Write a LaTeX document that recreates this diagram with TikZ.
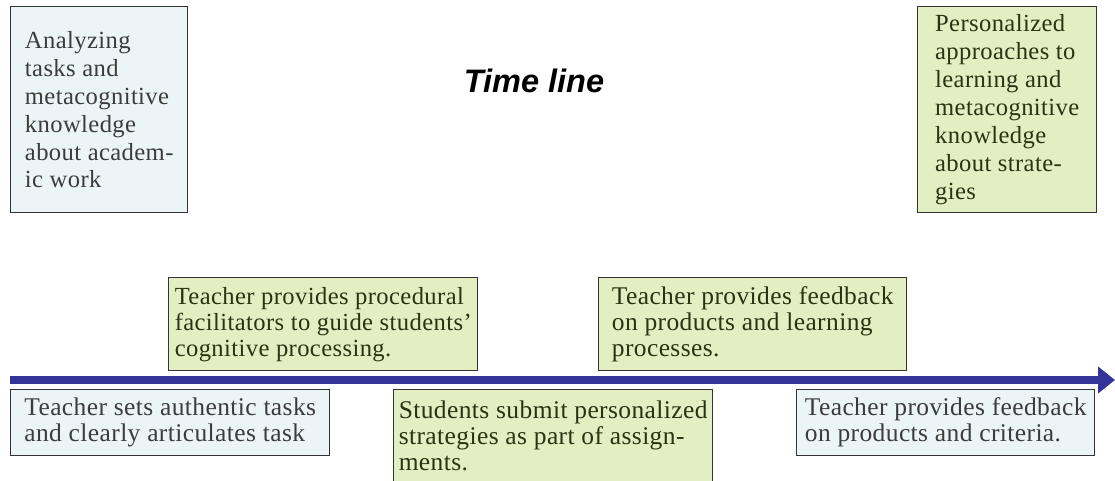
\documentclass[tikz,border=0pt]{standalone}
\usepackage{fontspec}
\setmainfont{Liberation Serif}
\newfontfamily\boxfont[LetterSpace=1.6]{Liberation Serif}
\newfontfamily\titlefont{Liberation Sans}
\usetikzlibrary{arrows.meta}

\definecolor{boxblue}{RGB}{235,244,247}
\definecolor{boxgreen}{RGB}{228,238,195}
\definecolor{txtgray}{RGB}{60,60,60}
\definecolor{txtgreen}{RGB}{40,52,18}
\definecolor{linenavy}{RGB}{51,51,153}

\tikzset{
  box/.style={draw=black!80, line width=0.8pt, anchor=north west, align=left,
    inner sep=0.1cm, font=\boxfont\fontsize{14.5}{14.8}\selectfont},
  tallbox/.style={box, font=\boxfont\fontsize{14}{15.9}\selectfont},
  bluebox/.style={fill=boxblue, text=txtgray},
  greenbox/.style={fill=boxgreen, text=txtgreen}
}

\begin{document}
\begin{tikzpicture}[>=Stealth]
  \useasboundingbox (0,0) rectangle (22.3,-9.62);
  \node (title) at (10.68,-1.62) {\titlefont\bfseries\itshape\fontsize{18.5}{22}\selectfont Time line};
  \node[tallbox,bluebox,minimum width=3.54cm,minimum height=4.12cm] (analyze) at (0.2,-0.12)
    {Analyzing\\tasks and\\metacognitive\\knowledge\\about academ-\\ic work};
  \node[tallbox,greenbox,minimum width=3.58cm,minimum height=4.12cm] (personal) at (18.34,-0.12)
    {Personalized\\approaches to\\learning and\\metacognitive\\knowledge\\about strate-\\gies};
  \node[box,greenbox,font=\boxfont\fontsize{14}{14.8}\selectfont,minimum width=6.18cm,minimum height=1.86cm] (facil) at (3.36,-5.54)
    {Teacher provides procedural\\facilitators to guide students’\\cognitive processing.};
  \node[box,greenbox,minimum width=6.16cm,minimum height=1.86cm] (feedlearn) at (11.96,-5.54)
    {Teacher provides feedback\\on products and learning\\processes.};
  % time axis
  \coordinate (tstart) at (0.2,-7.6);
  \coordinate (tend) at (22.3,-7.6);
  \draw[linenavy, line width=0.16cm, -{Triangle[length=0.34cm,width=0.52cm]}] (tstart) -- (tend);
  \node[box,bluebox,minimum width=6.38cm,minimum height=1.32cm] (authentic) at (0.2,-7.78)
    {Teacher sets authentic tasks\\and clearly articulates task};
  \node[box,greenbox,minimum width=6.38cm,minimum height=1.84cm] (submit) at (7.86,-7.78)
    {Students submit personalized\\strategies as part of assign-\\ments.};
  \node[box,bluebox,minimum width=5.96cm,minimum height=1.32cm] (criteria) at (15.92,-7.78)
    {Teacher provides feedback\\on products and criteria.};
\end{tikzpicture}
\end{document}
